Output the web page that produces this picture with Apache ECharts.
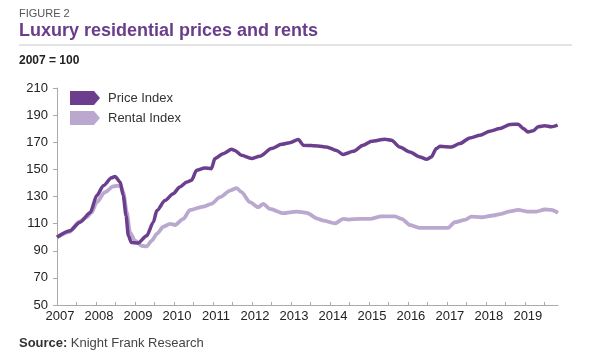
<!DOCTYPE html>
<html><head><meta charset="utf-8">
<script src="https://cdn.jsdelivr.net/npm/echarts@6/dist/echarts.min.js"></script>
<style>html,body{margin:0;padding:0;background:#fff}#c{width:600px;height:360px}</style>
</head><body><div id="c"></div>
<script>
var yearLabels = [2007,2008,2009,2010,2011,2012,2013,2014,2015,2016,2017,2018,2019];
var priceDates = [2007.0,2007.33,2007.59,2007.85,2008.02,2008.19,2008.4,2008.49,2008.62,2008.7,2008.77,2008.83,2008.91,2009.08,2009.3,2009.47,2009.56,2009.77,2009.98,2010.15,2010.33,2010.45,2010.58,2010.79,2010.96,2011.05,2011.26,2011.48,2011.56,2011.73,2011.99,2012.2,2012.5,2012.76,2012.97,2013.19,2013.32,2013.7,2013.91,2014.17,2014.34,2014.6,2014.85,2015.07,2015.41,2015.58,2015.79,2016.05,2016.31,2016.48,2016.6,2016.73,2016.82,2017.12,2017.33,2017.59,2017.85,2018.1,2018.36,2018.62,2018.83,2018.96,2019.08,2019.21,2019.34,2019.51,2019.68,2019.84];
var priceValues = [100,104.8,111,118,130.7,138,143.8,144.8,140.6,130.7,116,101,96,95.7,101,111,119.6,127,132,137,140.6,142,149.3,151,150.5,158,161.6,164.8,164,160.4,158,159.6,165.3,168.5,169.7,172,167.8,167.3,166.5,164,160.9,163.3,167.8,170.7,172.2,171.5,166.5,162.8,159.1,157.4,159.1,165.3,167,166.5,169,173.2,175.2,178.1,180.1,183.1,183.3,180.1,177.6,178.4,181.4,182.1,181.4,182.6];
var rentDates = [2007.0,2007.33,2007.55,2007.76,2007.89,2008.02,2008.23,2008.44,2008.62,2008.7,2008.79,2008.87,2009.0,2009.17,2009.3,2009.43,2009.56,2009.73,2009.9,2010.03,2010.24,2010.41,2010.75,2010.96,2011.18,2011.44,2011.61,2011.73,2011.95,2012.16,2012.29,2012.46,2012.8,2013.15,2013.4,2013.7,2013.83,2014.13,2014.34,2014.47,2014.77,2015.03,2015.32,2015.67,2015.84,2016.05,2016.31,2016.82,2017.03,2017.2,2017.46,2017.63,2017.89,2018.19,2018.4,2018.62,2018.83,2019.08,2019.3,2019.51,2019.68,2019.85];
var rentValues = [100,104,111,114.7,118.4,125.8,133.2,137.4,138.1,133.2,118.4,103.6,97.4,93.7,93.2,97.4,102.4,107.8,109.8,109,113.5,120,122.6,124.6,129.5,134.4,136.2,133.2,125.8,122.1,124.6,120.9,117.7,118.9,117.9,113.5,112.2,110.2,113.5,113,113.5,113.5,115.4,115.4,113.5,109,106.8,106.8,106.8,111,112.7,115.2,114.7,116,117.2,119.1,120.1,118.9,118.9,120.4,120.1,117.9];

function pairs(d, v){ return d.map(function(x,i){ return [x, v[i]]; }); }
var halfYearTicks = [];
for (var t = 2007; t <= 2019.5; t += 0.5) halfYearTicks.push(t);

var chart = echarts.init(document.getElementById('c'), null, {renderer:'canvas'});
var FONT = 'Liberation Sans';
var arrow = 'path://M0,0 L24,0 L30,7 L24,14 L0,14 Z';
chart.setOption({
  animation:false,
  textStyle:{fontFamily:FONT},
  grid:{left:57,right:42,top:88,bottom:55,containLabel:false},
  graphic:[
    {type:'text',left:19,top:8,style:{text:'FIGURE 2',font:'11px '+FONT,fill:'#555'}},
    {type:'text',left:19,top:22,style:{text:'Luxury residential prices and rents',font:'bold 18px '+FONT,fill:'#6a3d8c'}},
    {type:'line',shape:{x1:19,y1:45,x2:572,y2:45},style:{stroke:'#c8c8c8',lineWidth:1}},
    {type:'text',left:19,top:55,style:{text:'2007 = 100',font:'bold 12px '+FONT,fill:'#222'}},
    {type:'text',left:19,top:337,style:{rich:{b:{font:'bold 13px '+FONT,fill:'#333'},n:{font:'13px '+FONT,fill:'#444'}},text:'{b|Source:} {n|Knight Frank Research}'}}
  ],
  legend:{
    orient:'vertical',left:70,top:91,padding:0,itemWidth:30,itemHeight:14,itemGap:6,
    textStyle:{fontSize:13,color:'#333',fontFamily:FONT,padding:[0,0,0,3]},
    data:[{name:'Price Index',icon:arrow},{name:'Rental Index',icon:arrow}]
  },
  xAxis:{
    type:'value',min:2007,max:2019.85,interval:1,
    axisLine:{lineStyle:{color:'#aaa'}},
    axisTick:{show:true,inside:true,length:3,customValues:halfYearTicks,lineStyle:{color:'#aaa'}},
    axisLabel:{customValues:yearLabels,fontSize:13,color:'#222',margin:5,padding:[0,0,0,6],formatter:function(v){return String(v);}},
    splitLine:{show:false}
  },
  yAxis:{
    type:'value',min:50,max:210,interval:20,
    axisLine:{show:true,lineStyle:{color:'#aaa'}},
    axisTick:{show:true,length:4,lineStyle:{color:'#aaa'}},
    axisLabel:{fontSize:13,color:'#222',margin:9},
    splitLine:{show:false}
  },
  series:[
    {name:'Rental Index',type:'line',data:pairs(rentDates,rentValues),showSymbol:false,smooth:0.25,smoothMonotone:'x',
     lineStyle:{width:3.8,color:'#baa8cf'},itemStyle:{color:'#baa8cf'},z:2},
    {name:'Price Index',type:'line',data:pairs(priceDates,priceValues),showSymbol:false,smooth:0.25,smoothMonotone:'x',
     lineStyle:{width:3.5,color:'#6b3f8e'},itemStyle:{color:'#6b3f8e'},z:3}
  ]
});
</script></body></html>
